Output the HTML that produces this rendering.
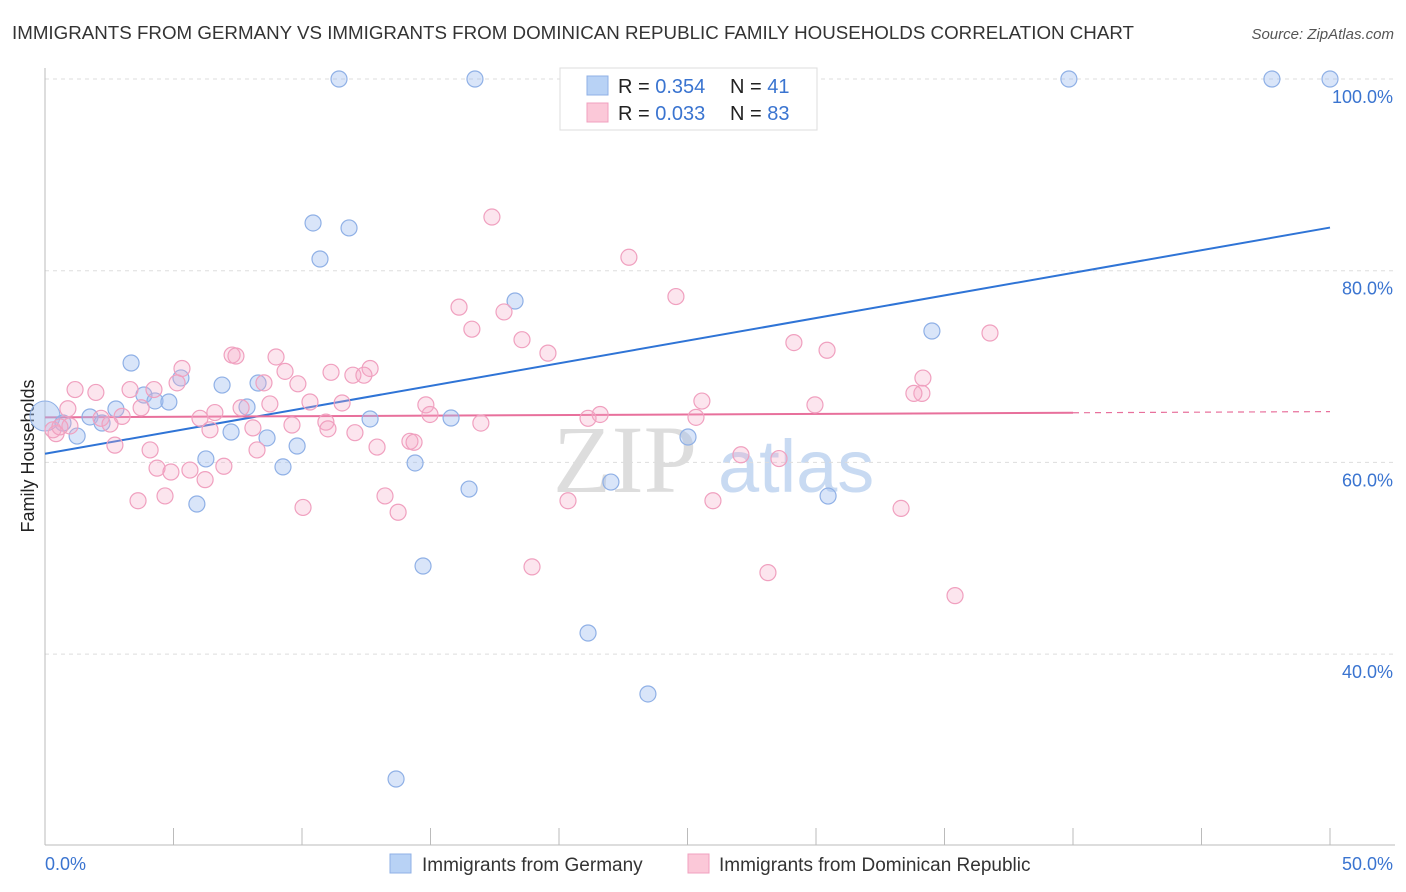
<!DOCTYPE html>
<html><head><meta charset="utf-8"><style>
body{margin:0;background:#fff;font-family:"Liberation Sans",sans-serif;}
svg{display:block}
</style></head><body>
<svg id="chart" width="1406" height="892">
<text x="12" y="39" font-size="18" fill="#333" textLength="1122" lengthAdjust="spacingAndGlyphs">IMMIGRANTS FROM GERMANY VS IMMIGRANTS FROM DOMINICAN REPUBLIC FAMILY HOUSEHOLDS CORRELATION CHART</text>
<text x="1394" y="39" font-size="15" fill="#555" font-style="italic" text-anchor="end">Source: ZipAtlas.com</text>
<text x="34" y="456" font-size="18" fill="#222" text-anchor="middle" transform="rotate(-90 34 456)">Family Households</text>
<g>
<text x="553" y="492" font-size="96" fill="#ddd" font-family="Liberation Serif,serif">ZIP</text>
<text x="718" y="492" font-size="74" fill="#c8daf2">atlas</text>
</g>
<g id="grid"></g><g id="axes"></g><g id="lines"></g><g id="pts"></g>
<g>
<rect x="560" y="68" width="257" height="62" fill="#fff" stroke="#ddd"/>
<rect x="587" y="76" width="21" height="19" fill="#b8d2f5" stroke="#8fb0e6"/>
<rect x="587" y="103" width="21" height="19" fill="#fbc8d8" stroke="#f0a0bf"/>
<text x="618" y="93" font-size="20" fill="#222">R = <tspan fill="#3a74d0">0.354</tspan></text>
<text x="730" y="93" font-size="20" fill="#222">N = <tspan fill="#3a74d0"> 41</tspan></text>
<text x="618" y="120" font-size="20" fill="#222">R = <tspan fill="#3a74d0">0.033</tspan></text>
<text x="730" y="120" font-size="20" fill="#222">N = <tspan fill="#3a74d0">83</tspan></text>
</g>
<g>
<rect x="390" y="854" width="21" height="19" fill="#b8d2f5" stroke="#8fb0e6"/>
<text x="422" y="871" font-size="19" fill="#333">Immigrants from Germany</text>
<rect x="688" y="854" width="21" height="19" fill="#fbc8d8" stroke="#f0a0bf"/>
<text x="719" y="871" font-size="19" fill="#333">Immigrants from Dominican Republic</text>
</g>
</svg>
<script>
const yTicks=[40,60,80,100];
const yTickLabels=["40.0%","60.0%","80.0%","100.0%"];
const xTicks=[0,5,10,15,20,25,30,35,40,45,50];
const blueX=[11.44,16.73,39.84,47.74,50,10.43,11.83,10.70,18.29,34.51,3.35,5.29,6.89,8.29,3.85,4.28,4.82,2.76,7.86,1.75,2.22,0.70,1.25,7.24,8.64,9.81,12.65,15.80,6.26,9.26,14.40,5.91,16.50,22.02,25.02,30.47,14.71,21.13,23.46,13.66];
const blueY=[100,100,100,100,100,84.98,84.46,81.22,76.84,73.71,70.37,68.81,68.07,68.28,67.03,66.41,66.30,65.57,65.78,64.74,64.11,64.11,62.75,63.17,62.55,61.71,64.53,64.63,60.36,59.53,59.94,55.66,57.22,57.95,62.65,56.49,49.19,42.20,35.84,26.97];
const pinkX=[17.39,22.72,24.55,16.11,16.61,17.86,36.77,18.56,29.14,30.43,19.57,7.28,7.43,8.99,5.33,11.13,12.65,11.98,12.41,9.34,34.16,5.14,8.52,1.17,1.98,3.31,4.24,11.56,25.56,34.12,33.81,29.96,8.75,7.63,6.61,14.82,3.74,3.0,2.18,10.31,9.84,14.98,21.6,25.33,21.13,16.96,6.03,10.93,9.61,11.01,12.06,8.09,6.42,2.53,0.89,0.43,0.97,2.72,4.09,12.92,14.2,14.36,27.08,28.56,4.36,4.9,5.64,6.96,8.25,6.23,3.62,4.67,10.04,13.23,13.74,20.35,25.99,33.31,18.95,28.13,35.41,0.31,0.58];
const pinkY=[85.6,81.4,77.3,76.2,73.9,75.7,73.5,72.8,72.5,71.7,71.4,71.2,71.1,71.0,69.8,69.4,69.8,69.1,69.1,69.5,68.8,68.3,68.3,67.6,67.3,67.6,67.6,66.2,66.4,67.2,67.2,66.0,66.1,65.7,65.2,66.0,65.7,64.8,64.6,66.3,68.2,65.0,65.0,64.7,64.6,64.1,64.6,64.2,63.9,63.5,63.1,63.6,63.4,64.0,65.6,63.0,63.8,61.8,61.3,61.6,62.2,62.1,60.8,60.4,59.4,59.0,59.2,59.6,61.3,58.2,56.0,56.5,55.3,56.5,54.8,56.0,56.0,55.2,49.1,48.5,46.1,63.4,63.7];
const blueFit=[60.9,84.5];
const pinkFit=[64.7,65.3];
const NS="http://www.w3.org/2000/svg";
const sx=v=>45+v/50*1285;
const sy=v=>79+(100-v)/20*191.7;
function mk(tag,attrs,parent){const e=document.createElementNS(NS,tag);for(const k in attrs)e.setAttribute(k,attrs[k]);document.getElementById(parent).appendChild(e);return e;}
yTicks.forEach((t,i)=>{
 const g=mk('line',{x1:45,x2:1395,y1:sy(t),y2:sy(t),stroke:'#ddd','stroke-dasharray':'4,4'},'grid');
 
 
 const l=mk('text',{x:1393,y:sy(t)+24,'font-size':18,fill:'#3a74d0','text-anchor':'end'},'axes');
 l.textContent=yTickLabels[i];
 
 
});
const ax=mk('line',{x1:45,x2:1395,y1:845,y2:845,stroke:'#bbb'},'axes');


const ay=mk('line',{x1:45,x2:45,y1:68,y2:845,stroke:'#bbb'},'axes');


xTicks.forEach(t=>{
 const k=mk('line',{x1:sx(t),x2:sx(t),y1:828,y2:845,stroke:'#bbb'},'axes');
 
 
});
const xl0=mk('text',{x:45,y:870,'font-size':18,fill:'#3a74d0'},'axes');xl0.textContent='0.0%';


const xl1=mk('text',{x:1393,y:870,'font-size':18,fill:'#3a74d0','text-anchor':'end'},'axes');xl1.textContent='50.0%';


const big=mk('circle',{cx:sx(0),cy:sy(64.84),r:15,fill:'rgba(160,190,240,0.45)',stroke:'#8fb0e6'},'pts');


blueX.forEach((x,i)=>{
 const c=mk('circle',{cx:sx(x),cy:sy(blueY[i]),r:8,fill:'rgba(160,190,240,0.4)',stroke:'#8fb0e6','stroke-width':1.2},'pts');
 
 
});
pinkX.forEach((x,i)=>{
 const c=mk('circle',{cx:sx(x),cy:sy(pinkY[i]),r:8,fill:'rgba(245,170,200,0.3)',stroke:'#f0a0bf','stroke-width':1.2},'pts');
 
 
});
const bl=mk('line',{x1:sx(0),y1:sy(blueFit[0]),x2:sx(50),y2:sy(blueFit[1]),stroke:'#2f74d6','stroke-width':2},'lines');


const pf=x=>pinkFit[0]+(pinkFit[1]-pinkFit[0])*x/50;
const pl=mk('line',{x1:sx(0),y1:sy(pf(0)),x2:sx(40),y2:sy(pf(40)),stroke:'#e8709c','stroke-width':2},'lines');


const pd=mk('line',{x1:sx(40),y1:sy(pf(40)),x2:sx(50),y2:sy(pf(50)),stroke:'#e8709c','stroke-width':1.2,'stroke-dasharray':'6,5'},'lines');


</script>
</body></html>
